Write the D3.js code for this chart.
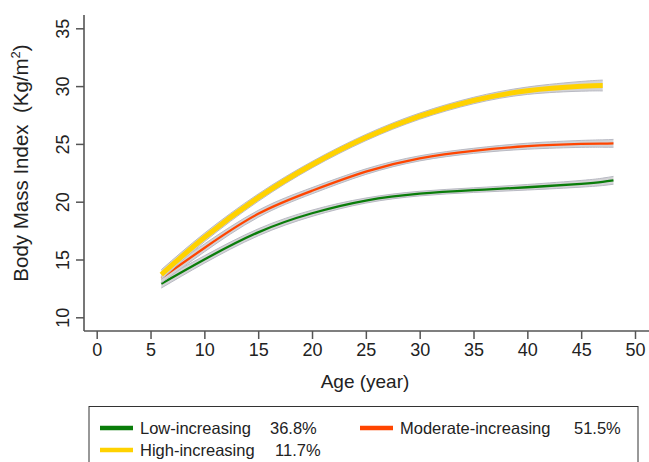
<!DOCTYPE html>
<html><head><meta charset="utf-8">
<script src="https://cdn.jsdelivr.net/npm/d3@7"></script>
<style>body{margin:0;background:#fff}svg{display:block;font-family:"Liberation Sans",Arial,sans-serif}</style>
</head><body><svg id="c" width="649" height="462"></svg>
<script>
const ages = [6, 10, 15, 20, 25, 30, 35, 40, 45, 47, 48];
const lowBMI = [12.9, 15.0, 17.35, 19.0, 20.1, 20.7, 21.0, 21.25, 21.55, 21.72, 21.85];
const modBMI = [13.4, 16.0, 18.95, 20.95, 22.6, 23.75, 24.4, 24.8, 25.0, 25.03, 25.05];
const highBMI = [13.7, 16.9, 20.35, 23.2, 25.55, 27.4, 28.75, 29.6, 29.98, 30.05, null];
const lowCI = [0.25, 0.2, 0.18, 0.15, 0.1, 0.08, 0.08, 0.12, 0.17, 0.2, 0.22];
const modCI = [0.3, 0.22, 0.18, 0.15, 0.12, 0.1, 0.1, 0.14, 0.18, 0.2, 0.22];
const highCI = [0.3, 0.25, 0.2, 0.16, 0.15, 0.15, 0.16, 0.2, 0.3, 0.35, null];
const xTicks = [0, 5, 10, 15, 20, 25, 30, 35, 40, 45, 50];
const yTicks = [10, 15, 20, 25, 30, 35];
const seriesNames = ["Low-increasing", "Moderate-increasing", "High-increasing"];
const seriesPct = ["36.8%", "51.5%", "11.7%"];
const seriesColors = ["#0a7d0a", "#ff4500", "#ffd200"];

const svg = d3.select("#c");
const x = d3.scaleLinear().domain([0, 50]).range([96.7, 635]);
const y = d3.scaleLinear().domain([10, 35]).range([317.3, 28.3]);
const axisColor = "#555";

const x0 = 84, yBottom = 331;
svg.append("line").attr("x1", x0).attr("x2", x0).attr("y1", 15).attr("y2", yBottom)
  .attr("stroke", axisColor).attr("stroke-width", 1.6);
svg.append("line").attr("x1", x0).attr("x2", 649).attr("y1", yBottom).attr("y2", yBottom)
  .attr("stroke", axisColor).attr("stroke-width", 1.6);

const yAxis = d3.axisLeft(y).tickValues(yTicks).tickSize(8).tickFormat(d3.format("d"));
const gy = svg.append("g").attr("transform", `translate(${x0},0)`).call(yAxis);
gy.select(".domain").remove();
gy.selectAll(".tick line").attr("stroke", axisColor).attr("stroke-width", 1.5);
gy.selectAll(".tick text").attr("font-size", 18).attr("fill", "#222")
  .attr("x", 0).attr("dy", 0)
  .attr("transform", "translate(-21,0) rotate(-90)")
  .attr("text-anchor", "middle").attr("dominant-baseline", "central");

const xAxis = d3.axisBottom(x).tickValues(xTicks).tickSize(8).tickFormat(d3.format("d"));
const gx = svg.append("g").attr("transform", `translate(0,${yBottom})`).call(xAxis);
gx.select(".domain").remove();
gx.selectAll(".tick line").attr("stroke", axisColor).attr("stroke-width", 1.5);
gx.selectAll(".tick text").attr("font-size", 18).attr("fill", "#222").attr("y", 12).attr("dy", "0.71em");

svg.append("text").attr("x", 365).attr("y", 388).attr("text-anchor", "middle")
  .attr("font-size", 19).attr("fill", "#222").text("Age (year)");
const yt = svg.append("text").attr("transform", "translate(28,163) rotate(-90)")
  .attr("text-anchor", "middle").attr("font-size", 20.5).attr("fill", "#222");
yt.append("tspan").text("Body Mass Index\u00a0\u00a0(Kg/m");
yt.append("tspan").attr("font-size", 13).attr("dy", -8).text("2");
yt.append("tspan").attr("dy", 8).text(")");

const allVals = [lowBMI, modBMI, highBMI];
const allCI = [lowCI, modCI, highCI];
const widths = [2.3, 2.3, 5];
const crv = d3.curveNatural;
allVals.forEach((vals, i) => {
  const pts = ages.map((a, j) => ({a, v: vals[j], c: allCI[i][j]})).filter(d => d.v != null);
  const area = d3.area().x(d => x(d.a)).y0(d => y(d.v - d.c - 0.12)).y1(d => y(d.v + d.c + 0.12)).curve(crv);
  svg.append("path").datum(pts).attr("d", area).attr("fill", "#d3d3d6");
  const lo = d3.line().x(d => x(d.a)).y(d => y(d.v - d.c - 0.12)).curve(crv);
  const hi = d3.line().x(d => x(d.a)).y(d => y(d.v + d.c + 0.12)).curve(crv);
  svg.append("path").datum(pts).attr("d", lo).attr("fill", "none").attr("stroke", "#b9bac4").attr("stroke-width", 1);
  svg.append("path").datum(pts).attr("d", hi).attr("fill", "none").attr("stroke", "#b9bac4").attr("stroke-width", 1);
  const line = d3.line().x(d => x(d.a)).y(d => y(d.v)).curve(crv);
  svg.append("path").datum(pts).attr("d", line).attr("fill", "none")
    .attr("stroke", seriesColors[i]).attr("stroke-width", widths[i]);
});

svg.append("rect").attr("x", 89).attr("y", 406.5).attr("width", 549).attr("height", 60)
  .attr("fill", "#fff").attr("stroke", "#333").attr("stroke-width", 1);
const legPos = [[100, 428], [360, 428], [100, 450]];
const pctX = [270, 574, 275];
seriesNames.forEach((n, i) => {
  const [lx, ly] = legPos[i];
  svg.append("line").attr("x1", lx).attr("x2", lx + 33).attr("y1", ly).attr("y2", ly)
    .attr("stroke", seriesColors[i]).attr("stroke-width", 4.5);
  svg.append("text").attr("x", lx + 40).attr("y", ly).attr("dy", "0.35em")
    .attr("font-size", 16.5).attr("fill", "#222").text(n);
  svg.append("text").attr("x", pctX[i]).attr("y", ly).attr("dy", "0.35em")
    .attr("font-size", 16.5).attr("fill", "#222").text(seriesPct[i]);
});
</script></body></html>
